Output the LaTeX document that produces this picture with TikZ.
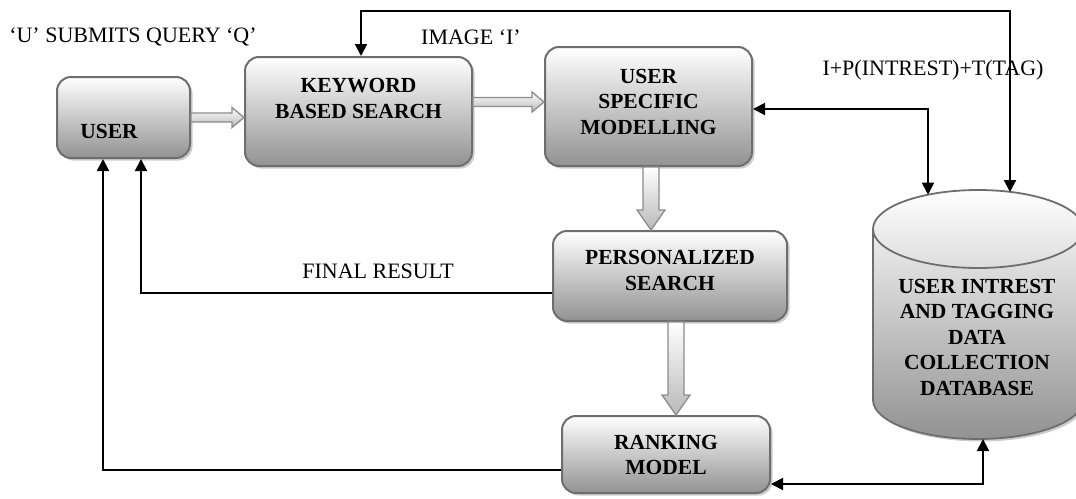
\documentclass[tikz,border=0pt]{standalone}
\usepackage{fontspec}
\setmainfont{Liberation Serif}[BoldFont={Liberation Serif Bold}]
\usetikzlibrary{arrows.meta,shadows,calc}
\definecolor{boxborder}{HTML}{6E6E6E}
\definecolor{boxbottom}{HTML}{929292}
\newcommand\hollowH[2]{\path[hollow] let \p1=#1, \p2=#2 in
  (\x1,\y1+4.5pt) -- (\x2-12pt,\y1+4.5pt) -- (\x2-12pt,\y1+10pt) -- (\x2,\y1)
  -- (\x2-12pt,\y1-10pt) -- (\x2-12pt,\y1-4.5pt) -- (\x1,\y1-4.5pt) -- cycle;}
\newcommand\hollowV[2]{\path[hollow] let \p1=#1, \p2=#2 in
  (\x1-8pt,\y1) -- (\x1-8pt,\y2+20pt) -- (\x1-14pt,\y2+20pt) -- (\x1,\y2)
  -- (\x1+14pt,\y2+20pt) -- (\x1+8pt,\y2+20pt) -- (\x1+8pt,\y1) -- cycle;}
\begin{document}
\begin{tikzpicture}[x=1pt,y=-1pt,
  >={Triangle[length=12pt,width=12pt]},
  box/.style={draw=boxborder, line width=2pt, rounded corners=14pt, inner sep=0pt,
    top color=white, bottom color=boxbottom,
    drop shadow={shadow xshift=2.5pt, shadow yshift=-2.5pt, fill=black!40, opacity=0.5}},
  btext/.style={font=\bfseries\fontsize{21.5}{25.5}\selectfont, align=center, inner sep=0pt},
  ltext/.style={font=\fontsize{22}{26}\selectfont, inner sep=0pt},
  conn/.style={draw=black, line width=2pt},
  hollow/.style={draw=gray!90, line width=1.3pt, top color=white, bottom color=gray!55, line join=miter}
]
\useasboundingbox (0,0) rectangle (1076,498);

% boxes
\node[box, minimum width=133pt, minimum height=81pt,
  label={[btext, xshift=-14.5pt, yshift=-13.5pt]center:USER}] (user) at (123.5,117.5) {};
\node[box, minimum width=227pt, minimum height=109pt,
  label={[btext, xshift=0pt, yshift=13pt]center:KEYWORD\\BASED SEARCH}] (kw) at (358.5,111.5) {};
\node[box, minimum width=207pt, minimum height=119pt,
  label={[btext, yshift=5pt]center:USER\\SPECIFIC\\MODELLING}] (usm) at (648.5,106.5) {};
\node[box, minimum width=234pt, minimum height=90pt,
  label={[btext, yshift=5.5pt]center:PERSONALIZED\\SEARCH}] (pers) at (670,276) {};
\node[box, minimum width=208pt, minimum height=77pt,
  label={[btext, yshift=-0.5pt]center:RANKING\\MODEL}] (rank) at (666,454.5) {};

% database cylinder
\fill[black!40, opacity=0.5] (875.5,229) -- (875.5,402.5) arc[start angle=180,end angle=360,x radius=105pt,y radius=39pt]
  -- (1085.5,229) -- cycle;
\path[draw=boxborder, line width=1.8pt, top color=white, bottom color=boxbottom]
  (873,229) -- (873,400) arc[start angle=180,end angle=360,x radius=105pt,y radius=39pt]
  -- (1083,229) arc[start angle=0,end angle=180,x radius=105pt,y radius=39pt] -- cycle;
\draw[boxborder, line width=1.8pt] (873,229) arc[start angle=180,end angle=360,x radius=105pt,y radius=39pt];
\node[btext] (db) at (977,337) {USER INTREST\\AND TAGGING\\DATA\\COLLECTION\\DATABASE};
\coordinate (dbA) at (1010,192);
\coordinate (dbB) at (928,194.7);
\coordinate (dbC) at (983,439);
\coordinate (topy) at (0,11);

% hollow arrows
\hollowH{(user.east)}{(kw.west)}
\hollowH{([yshift=9.5pt]kw.east)}{(usm.west)}
\hollowV{([xshift=2.5pt]usm.south)}{(pers.north)}
\hollowV{([xshift=6pt]pers.south)}{(rank.north)}

% connectors
\draw[conn,<->] ([xshift=2.5pt]kw.north) |- (topy -| dbA) -- (dbA);
\draw[conn,<->] ([yshift=-2.5pt]usm.east) -| (dbB);
\draw[conn,<->] ([yshift=-29.5pt]rank.east) -| (dbC);
\draw[conn,->] ([yshift=-17pt]pers.west) -| ([xshift=17.5pt]user.south);
\draw[conn,->] ([yshift=-15.5pt]rank.west) -| ([xshift=-20.5pt]user.south);

% labels
\node[ltext] (q) at (133,37) {‘U’ SUBMITS QUERY ‘Q’};
\node[ltext] (img) at (471,37) {IMAGE ‘I’};
\node[ltext] (ipt) at (933,70) {I+P(INTREST)+T(TAG)};
\node[ltext] (fr) at (378,271) {FINAL RESULT};
\end{tikzpicture}
\end{document}
